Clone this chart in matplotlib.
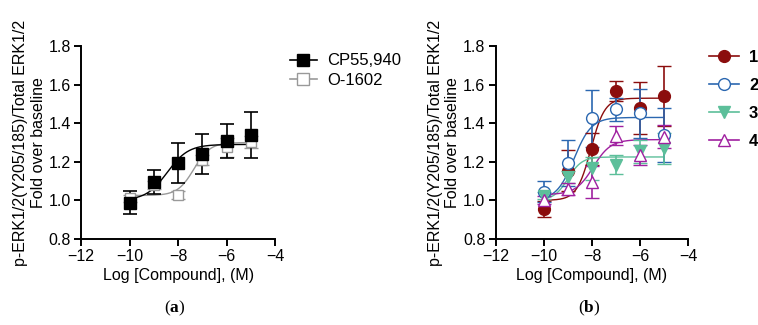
import numpy as np
import matplotlib.pyplot as plt

plt.rcParams['font.family'] = ['Liberation Sans', 'DejaVu Sans']
plt.rcParams['mathtext.fontset'] = 'custom'
plt.rcParams['mathtext.bf'] = 'Liberation Serif:bold'

logc = [-10, -9, -8, -7, -6, -5]

# panel (a)
cp_y = [0.988, 1.094, 1.194, 1.240, 1.308, 1.340]
cp_err = [0.060, 0.062, 0.103, 0.104, 0.090, 0.120]
o_y = [1.010, 1.080, 1.028, 1.210, 1.275, 1.304]
o_err = [0.020, 0.020, 0.020, 0.025, 0.050, 0.030]
# fitted curves: bottom, top, logEC50, hill
cp_fit = [1.00, 1.29, -8.45, 1.0]
o_fit = [1.025, 1.30, -7.35, 1.3]

# panel (b)
names_b = ['1', '2', '3', '4']
y1 = [0.954, 1.154, 1.268, 1.568, 1.477, 1.540]
e1 = [0.040, 0.105, 0.083, 0.052, 0.135, 0.155]
y2 = [1.045, 1.195, 1.425, 1.472, 1.451, 1.338]
e2 = [0.055, 0.120, 0.150, 0.060, 0.125, 0.140]
y3 = [1.025, 1.120, 1.166, 1.185, 1.255, 1.270]
e3 = [0.020, 0.030, 0.060, 0.050, 0.060, 0.080]
y4 = [1.000, 1.060, 1.095, 1.335, 1.235, 1.330]
e4 = [0.020, 0.030, 0.085, 0.050, 0.050, 0.060]
fits_b = [[1.00, 1.53, -8.05, 1.5],
          [1.00, 1.43, -8.75, 1.2],
          [1.00, 1.225, -9.0, 1.5],
          [1.03, 1.315, -7.95, 1.2]]
colors_b = ['#8b0d0d', '#2b67b0', '#5cbf9a', '#a020a0']
markers_b = ['o', 'o', 'v', '^']
filled_b = [True, False, True, False]


def fourpl(x, p):
    b, t, ec, h = p
    return b + (t - b) / (1 + 10 ** ((ec - x) * h))


def style(ax):
    ax.spines['top'].set_visible(False)
    ax.spines['right'].set_visible(False)
    ax.spines['left'].set_linewidth(1.4)
    ax.spines['bottom'].set_linewidth(1.4)
    ax.set_xlim(-12, -4)
    ax.set_ylim(0.8, 1.8)
    ax.set_xticks(range(-12, -3, 2))
    ax.set_yticks(np.arange(0.8, 1.81, 0.2))
    ax.set_yticklabels(['0.8', '1.0', '1.2', '1.4', '1.6', '1.8'])
    ax.tick_params(width=1.4, length=5, labelsize=11.5, pad=2.5)
    ax.set_xlabel('Log [Compound], (M)', fontsize=11.5, labelpad=3)
    ax.set_ylabel('p-ERK1/2(Y205/185)/Total ERK1/2\nFold over baseline', fontsize=11.5,
                  labelpad=2, linespacing=1.2)


fig = plt.figure(figsize=(7.58, 3.25), dpi=100)
ax1 = fig.add_axes([0.107, 0.265, 0.256, 0.593])
ax2 = fig.add_axes([0.654, 0.265, 0.254, 0.593])
xs = np.linspace(-10, -5, 200)

# (a)
ax1.plot(xs, fourpl(xs, o_fit), color='#999999', lw=1)
ax1.errorbar(logc, o_y, yerr=o_err, fmt='s', color='#999999', mfc='white', mec='#999999',
             ms=7.5, capsize=5, elinewidth=1.2, capthick=1.2, mew=1)
ax1.plot(xs, fourpl(xs, cp_fit), color='black', lw=1)
ax1.errorbar(logc, cp_y, yerr=cp_err, fmt='s', color='black', ms=8, capsize=5,
             elinewidth=1.2, capthick=1.2)
ax1.plot([], [], color='black', marker='s', ms=8, lw=1.2, label='CP55,940')
ax1.plot([], [], color='#999999', marker='s', mfc='white', ms=8, lw=1.2, label='O-1602')
style(ax1)
ax1.legend(loc='upper left', bbox_to_anchor=(1.0, 1.04), frameon=False, fontsize=12,
           handlelength=1.6, handletextpad=0.6, labelspacing=0.25)

# (b)
ys_b = [y1, y2, y3, y4]
es_b = [e1, e2, e3, e4]
for i in range(4):
    c = colors_b[i]
    ax2.plot(xs, fourpl(xs, fits_b[i]), color=c, lw=1)
for i in range(4):
    c = colors_b[i]
    mfc = c if filled_b[i] else 'white'
    ax2.errorbar(logc, ys_b[i], yerr=es_b[i], fmt=markers_b[i], color=c, mfc=mfc, mec=c,
                 ms=8.5, capsize=5, elinewidth=1.2, capthick=1.2, mew=1)
    ax2.plot([], [], color=c, marker=markers_b[i], mfc=mfc, mec=c, ms=8.5, lw=1.2, label=names_b[i])
style(ax2)
leg = ax2.legend(loc='upper left', bbox_to_anchor=(1.03, 1.06), frameon=False, fontsize=12,
                 handlelength=1.8, handletextpad=0.6, labelspacing=0.78)
for t in leg.get_texts():
    t.set_fontweight('bold')

fig.text(0.231, 0.04, r'($\mathbf{a}$)', ha='center', fontsize=12.5, family='Liberation Serif')
fig.text(0.778, 0.04, r'($\mathbf{b}$)', ha='center', fontsize=12.5, family='Liberation Serif')

fig.savefig('out.png', dpi=100)
